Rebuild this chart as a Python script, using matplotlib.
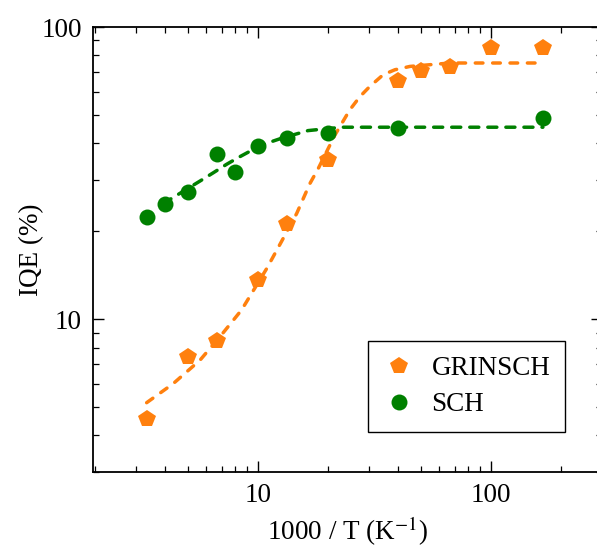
import matplotlib
matplotlib.use("Agg")
import matplotlib.pyplot as plt

plt.rcParams['font.family'] = ['Liberation Serif', 'DejaVu Serif']
plt.rcParams['mathtext.fontset'] = 'stix'

# Data (x = 1000/T in K^-1, y = IQE in %)
grinsch_x = [3.33, 5.0, 6.67, 10.0, 13.3, 20.0, 40.0, 50.0, 66.7, 100.0, 167.0]
grinsch_y = [4.57, 7.4, 8.4, 13.6, 21.2, 35.2, 65.2, 70.6, 72.9, 84.7, 85.0]

sch_x = [3.33, 4.0, 5.0, 6.67, 8.0, 10.0, 13.3, 20.0, 40.0, 167.0]
sch_y = [22.4, 24.8, 27.3, 36.9, 31.8, 39.3, 41.6, 43.3, 45.0, 48.7]

# Fit curves
grinsch_fit_x = [3.33, 4.33, 5.64, 6.87, 8.51, 10.9, 12.6, 14.66, 16.7, 18.15,
                 21.4, 24.8, 27.4, 30.2, 34.5, 38.7, 44.9, 66.7, 167.0]
grinsch_fit_y = [5.18, 6.02, 7.24, 8.71, 10.76, 14.9, 18.4, 23.0, 29.1, 32.8,
                 42.7, 52.1, 57.8, 62.6, 68.7, 71.4, 73.3, 75.3, 75.3]

sch_fit_x = [3.92, 4.33, 5.64, 6.43, 7.34, 8.37, 9.55, 10.9, 12.6, 16.4, 20.4, 23.2, 167.0]
sch_fit_y = [24.9, 26.1, 29.7, 31.7, 33.9, 36.0, 38.1, 40.0, 41.6, 44.2, 45.0, 45.4, 45.4]

orange = '#ff800e'
green = '#008000'

fig = plt.figure(figsize=(5.97, 5.5), dpi=100)
ax = fig.add_axes([93/597, 1 - 472/550, (602.2 - 93)/597, (472 - 27)/550])

ax.plot(grinsch_fit_x, grinsch_fit_y, color=orange, lw=2.5,
        linestyle=(0, (2.2, 2.8)), dash_capstyle='round', zorder=2)
ax.plot(sch_fit_x, sch_fit_y, color=green, lw=2.5,
        linestyle=(0, (2.6, 2.6)), dash_capstyle='round', zorder=2)

ax.plot(grinsch_x, grinsch_y, linestyle='none', marker='p', ms=13,
        color=orange, markeredgewidth=0, label='GRINSCH', zorder=3)
ax.plot(sch_x, sch_y, linestyle='none', marker='o', ms=11.5,
        color=green, markeredgewidth=0, label='SCH', zorder=3)

ax.set_xscale('log')
ax.set_yscale('log')
ax.set_xlim(1.96, 300)
ax.set_ylim(3.0, 100)

ax.set_xticks([10, 100])
ax.set_xticklabels(['10', '100'])
ax.set_yticks([10, 100])
ax.set_yticklabels(['10', '100'])

ax.tick_params(which='both', direction='in', top=True, right=True)
ax.tick_params(which='major', length=8, width=1.0, labelsize=19.5, pad=8)
ax.tick_params(which='minor', length=4.5, width=0.9)
for s in ax.spines.values():
    s.set_linewidth(1.3)

ax.set_xlabel(r'1000 / T (K$^{-1}$)', fontsize=19.5, labelpad=5)
ax.set_ylabel('IQE (%)', fontsize=19.5, labelpad=-2)

leg = ax.legend(loc='lower center', bbox_to_anchor=(466.5/597, 1 - 432/550),
                bbox_transform=fig.transFigure, borderaxespad=0,
                fontsize=19.5, frameon=True,
                fancybox=False, edgecolor='black', framealpha=1,
                handletextpad=0.6, borderpad=0.55, labelspacing=0.4,
                handlelength=1.2)
leg.get_frame().set_linewidth(1.0)

fig.savefig('out.png', dpi=100)
